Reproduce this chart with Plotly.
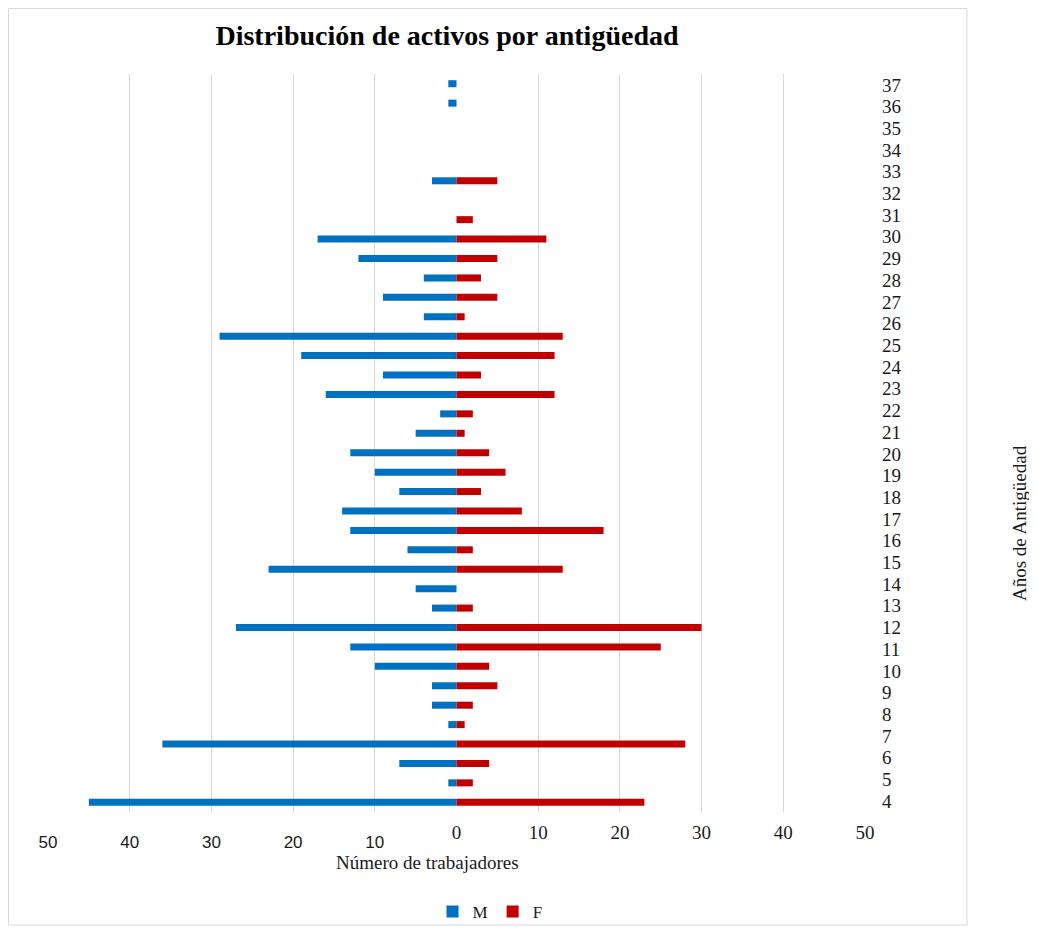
import plotly.graph_objects as go

# ---------------- data ----------------
# bar rows from bottom (row of "4") to top; None = empty row
male = [45, 1, 7, 36, 1, 3, 3, 10, 13, 27, 3, 5, 23, 6, 13, 14, 7, 10, 13, 5,
        2, 16, 9, 19, 29, 4, 9, 4, 12, 17, 0, None, 3, None, None, None, 1, 1]
female = [23, 2, 4, 28, 1, 2, 5, 4, 25, 30, 2, 0, 13, 2, 18, 8, 3, 6, 4, 1,
          2, 12, 3, 12, 13, 1, 5, 3, 5, 11, 2, None, 5, None, None, None, 0, 0]
row_labels = list(range(4, 38))          # right-hand category labels
left_ticks = [-50, -40, -30, -20, -10]
left_text = ["50", "40", "30", "20", "10"]
right_ticks = [10, 20, 30, 40, 50]
zero_tick = [0]

slots = list(range(len(male)))

# ---------------- geometry helpers (page px -> paper) ----------------
OFF = 8
W, H = 1021, 918
L, T = 40, 66
PW, PH = 817, 738
R = W - L - PW
B = H - T - PH


def px(xp):
    return (xp - OFF - L) / PW


def py(yp):
    return 1 - (yp - OFF - T) / PH


SERIF = "Liberation Serif, Times New Roman, serif"
SANS = "Liberation Sans, Arial, sans-serif"
GRID = "#D9D9D9"
TXT = "#1a1a1a"

fig = go.Figure()
fig.add_trace(go.Bar(
    name="M", y=slots, x=[(-v if v is not None else None) for v in male],
    orientation="h", marker=dict(color="#0070C0", line=dict(width=0)),
    xaxis="x", yaxis="y", hoverinfo="skip"))
fig.add_trace(go.Bar(
    name="F", y=slots, x=female,
    orientation="h", marker=dict(color="#C00000", line=dict(width=0)),
    xaxis="x2", yaxis="y", hoverinfo="skip"))
fig.add_trace(go.Scatter(
    x=[0] * len(row_labels), y=row_labels, mode="markers",
    marker=dict(opacity=0), showlegend=False, hoverinfo="skip",
    xaxis="x3", yaxis="y2"))

common_x = dict(range=[-50, 50], zeroline=False, showline=False, ticks="",
                fixedrange=True)

fig.update_layout(
    width=W, height=H,
    margin=dict(l=L, r=R, t=T, b=B, pad=0, autoexpand=False),
    paper_bgcolor="white", plot_bgcolor="white",
    barmode="overlay", bargap=0.64,
    hovermode=False,
    title=dict(text="<b>Distribución de activos por antigüedad</b>",
               font=dict(family=SERIF, size=28, color="black"),
               x=(447 - OFF) / W, xanchor="center", xref="container",
               y=1 - (35 - OFF) / H, yanchor="middle", yref="container"),
    xaxis=dict(**common_x, tickvals=left_ticks, ticktext=left_text,
               showgrid=True, gridcolor=GRID, gridwidth=1,
               tickfont=dict(family=SANS, size=17, color=TXT),
               ticklabelstandoff=18, anchor="y"),
    xaxis2=dict(**common_x, tickvals=right_ticks, overlaying="x", side="bottom",
                showgrid=True, gridcolor=GRID, gridwidth=1,
                tickfont=dict(family=SERIF, size=19, color=TXT),
                ticklabelstandoff=7, anchor="y"),
    xaxis3=dict(**common_x, tickvals=zero_tick, overlaying="x", side="bottom",
                showgrid=False,
                tickfont=dict(family=SERIF, size=19, color=TXT),
                ticklabelstandoff=7, anchor="y"),
    yaxis=dict(range=[-0.5, len(male) - 0.5], showticklabels=False, ticks="",
               showgrid=False, zeroline=False, showline=False, fixedrange=True),
    yaxis2=dict(range=[row_labels[0] - 0.5, row_labels[-1] + 0.5],
                tickvals=row_labels, overlaying="y", side="right", anchor="x",
                showgrid=False, zeroline=False, showline=False, ticks="",
                tickfont=dict(family=SERIF, size=19, color=TXT),
                ticklabelstandoff=16, fixedrange=True),
    legend=dict(orientation="h", x=px(490), xanchor="center",
                y=py(912), yanchor="middle",
                font=dict(family=SERIF, size=17, color=TXT),
                itemwidth=30, tracegroupgap=0,
                bgcolor="rgba(0,0,0,0)"),
    showlegend=True,
)

fig.add_annotation(text="Número de trabajadores", xref="paper", yref="paper",
                   x=px(427), y=py(862), xanchor="center", yanchor="middle",
                   showarrow=False, font=dict(family=SERIF, size=19, color=TXT))
fig.add_annotation(text="Años de Antigüedad", xref="paper", yref="paper",
                   x=px(1019), y=py(523), xanchor="center", yanchor="middle",
                   textangle=-90, showarrow=False,
                   font=dict(family=SERIF, size=19, color=TXT))

# outer chart-area border
fig.add_shape(type="rect", xref="paper", yref="paper",
              x0=px(8.5), x1=px(967), y0=py(OFF + H - 1), y1=py(OFF + 0.5),
              line=dict(color=GRID, width=1), fillcolor="rgba(0,0,0,0)",
              layer="below")

fig.write_html("out.html")
